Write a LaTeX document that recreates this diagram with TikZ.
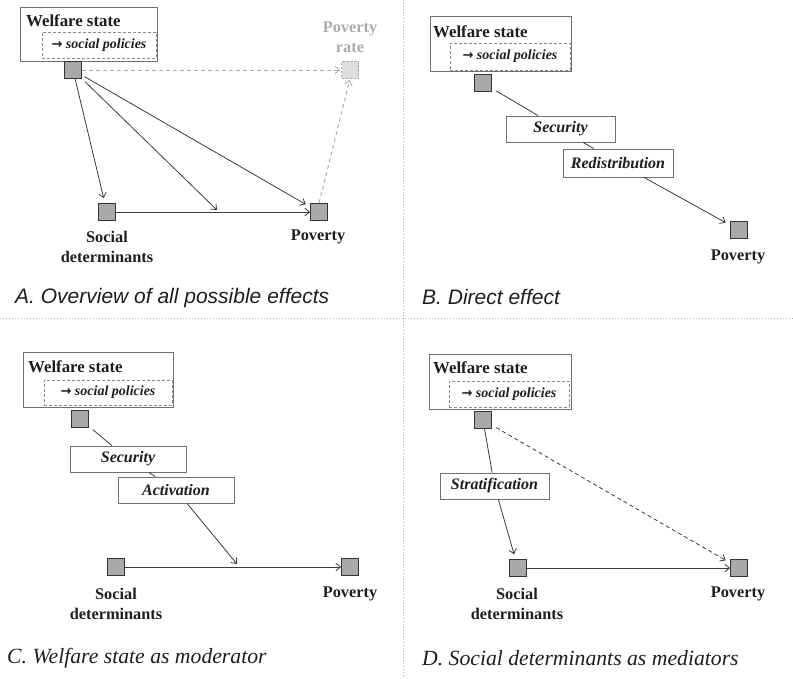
\documentclass[tikz,border=0pt]{standalone}
\usepackage{fontspec}
\setmainfont{Liberation Serif}
\newfontfamily\capsans{Liberation Sans}
\newfontfamily\arrowfont{DejaVu Sans}
\usetikzlibrary{arrows.meta}
\definecolor{linegray}{HTML}{3A3A3A}
\definecolor{boxborder}{HTML}{707070}
\definecolor{dashborder}{HTML}{8A8A8A}
\definecolor{sqfill}{HTML}{A9A9A9}
\definecolor{sqborder}{HTML}{333333}
\definecolor{ghost}{HTML}{ABABAB}
\definecolor{ghostfill}{HTML}{DEDEDE}
\definecolor{divider}{HTML}{B5B5B5}
\definecolor{txt}{HTML}{1E1E1E}
\newcommand{\polarrow}{{\arrowfont\bfseries\fontsize{13}{15}\selectfont\char"2192}}
\begin{document}
\begin{tikzpicture}[x=1pt,y=-1pt,
  wsbox/.style={draw=boxborder, line width=0.9pt, fill=white, inner sep=0pt},
  polbox/.style={draw=dashborder, dashed, dash pattern=on 3pt off 2pt, line width=0.8pt, inner sep=0pt, text=txt,
     font=\fontsize{14}{15}\selectfont\bfseries\itshape},
  wstitle/.style={anchor=west, inner sep=0pt, text=txt, font=\fontsize{16.8}{18}\selectfont\bfseries},
  mechbox/.style={draw=boxborder, line width=0.9pt, fill=white, inner sep=0pt, text=txt,
     font=\fontsize{16}{18}\selectfont\bfseries\itshape},
  sq/.style={draw=sqborder, fill=sqfill, line width=0.9pt, minimum size=17pt, inner sep=0pt},
  ghostsq/.style={draw=ghost, fill=ghostfill, dashed, dash pattern=on 2.5pt off 1.5pt, line width=0.9pt, minimum size=17pt, inner sep=0pt},
  lbl/.style={inner sep=0pt, align=center, text=txt, font=\fontsize{16.3}{20}\selectfont\bfseries},
  ghostlbl/.style={inner sep=0pt, align=center, text=ghost, font=\fontsize{16.3}{20}\selectfont\bfseries},
  arr/.style={draw=linegray, line width=0.8pt, -{Straight Barb[length=4.5pt,width=7.5pt]}},
  link/.style={draw=linegray, line width=0.8pt},
  ghostarr/.style={draw=ghost, line width=0.9pt, dashed, dash pattern=on 4pt off 3pt, -{Straight Barb[length=4.5pt,width=7.5pt]}},
  darr/.style={draw=linegray, line width=0.8pt, dashed, dash pattern=on 4pt off 3pt, -{Straight Barb[length=4.5pt,width=7.5pt]}},
  capA/.style={anchor=west, inner sep=0pt, text=txt, font=\capsans\fontsize{21}{24}\selectfont\itshape},
  capC/.style={anchor=west, inner sep=0pt, text=txt, font=\fontsize{21.7}{24}\selectfont\itshape},
  divline/.style={draw=divider, line width=1pt, dotted}
]
\useasboundingbox (0,0) rectangle (793,678);
% dividers
\draw[divline] (0,318) -- (793,318);
\draw[divline] (403,0) -- (403,678);

% ---------------- Panel A ----------------
\node[wsbox, minimum width=137pt, minimum height=54pt] (wsboxA) at (88.5,34) {};
\node[wstitle] (wstA) at (26,21) {Welfare state};
\node[polbox, minimum width=114pt, minimum height=26pt] (polA) at (99,45) {\polarrow\ social policies};
\node[sq] (wsA) at (73,70) {};
\node[ghostsq] (prA) at (350,70) {};
\node[ghostlbl] (prlA) at (350,37) {Poverty\\rate};
\node[sq] (sdA) at (107,212) {};
\node[sq] (povA) at (319,212) {};
\node[lbl] (sdlA) at (107,247) {Social\\determinants};
\node[lbl] (povlA) at (318,237) {Poverty};
\coordinate (midA) at (217,210);
\draw[ghostarr, shorten >=1pt] (wsA) -- (prA);
\draw[ghostarr, shorten >=1pt] (povA.north) -- (prA.south);
\draw[arr, shorten >=5pt] (wsA) -- (sdA);
\draw[arr, shorten <=4pt] (wsA) -- (midA);
\draw[arr, shorten <=3pt, shorten >=5pt] (wsA) -- (povA);
\draw[arr] (sdA) -- (povA);
\node[capA] (capAn) at (15,298) {A. Overview of all possible effects};

% ---------------- Panel B ----------------
\node[wsbox, minimum width=141pt, minimum height=55pt] (wsboxB) at (500.5,43.5) {};
\node[wstitle] (wstB) at (433,32) {Welfare state};
\node[polbox, minimum width=120pt, minimum height=27pt] (polB) at (510,56.5) {\polarrow\ social policies};
\node[sq] (wsB) at (483,83) {};
\node[mechbox, minimum width=109pt, minimum height=26pt] (secB) at (560.5,129) {Security};
\node[mechbox, minimum width=110pt, minimum height=28pt] (redB) at (618,163) {Redistribution};
\node[sq] (povB) at (739,230) {};
\node[lbl] (povlB) at (738,257) {Poverty};
\draw[link, shorten <=5pt] (wsB) -- (secB);
\draw[link] (secB) -- (redB);
\draw[arr, shorten >=5pt] (redB) -- (povB);
\node[capA] (capBn) at (422,297) {B. Direct effect};

% ---------------- Panel C ----------------
\node[wsbox, minimum width=150pt, minimum height=55pt] (wsboxC) at (98,379.5) {};
\node[wstitle] (wstC) at (28,367) {Welfare state};
\node[polbox, minimum width=128pt, minimum height=25pt] (polC) at (108,392.5) {\polarrow\ social policies};
\node[sq] (wsC) at (80,419) {};
\node[mechbox, minimum width=116pt, minimum height=26pt] (secC) at (128,459) {Security};
\node[mechbox, minimum width=116pt, minimum height=26pt] (actC) at (176,490) {Activation};
\node[sq] (sdC) at (116,567) {};
\node[sq] (povC) at (350,567) {};
\node[lbl] (sdlC) at (116,604) {Social\\determinants};
\node[lbl] (povlC) at (350,594) {Poverty};
\coordinate (midC) at (237,564);
\draw[link, shorten <=5pt] (wsC) -- (secC);
\draw[link] (secC) -- (actC);
\draw[arr] (actC) -- (midC);
\draw[arr] (sdC) -- (povC);
\node[capC] (capCn) at (7,658) {C. Welfare state as moderator};

% ---------------- Panel D ----------------
\node[wsbox, minimum width=142pt, minimum height=55pt] (wsboxD) at (500,381.5) {};
\node[wstitle] (wstD) at (433,368) {Welfare state};
\node[polbox, minimum width=120pt, minimum height=26pt] (polD) at (509,394) {\polarrow\ social policies};
\node[sq] (wsD) at (483,420) {};
\node[mechbox, minimum width=109pt, minimum height=26pt] (strD) at (494.5,486) {Stratification};
\node[sq] (sdD) at (518,568) {};
\node[sq] (povD) at (739,568) {};
\node[lbl] (sdlD) at (517,604) {Social\\determinants};
\node[lbl] (povlD) at (738,594) {Poverty};
\draw[link] (wsD) -- (strD);
\draw[arr, shorten >=5pt] (strD) -- (sdD);
\draw[darr, shorten <=5pt, shorten >=5pt] (wsD) -- (povD);
\draw[arr] (sdD) -- (povD);
\node[capC] (capDn) at (422,658) {D. Social determinants as mediators};
\end{tikzpicture}
\end{document}
